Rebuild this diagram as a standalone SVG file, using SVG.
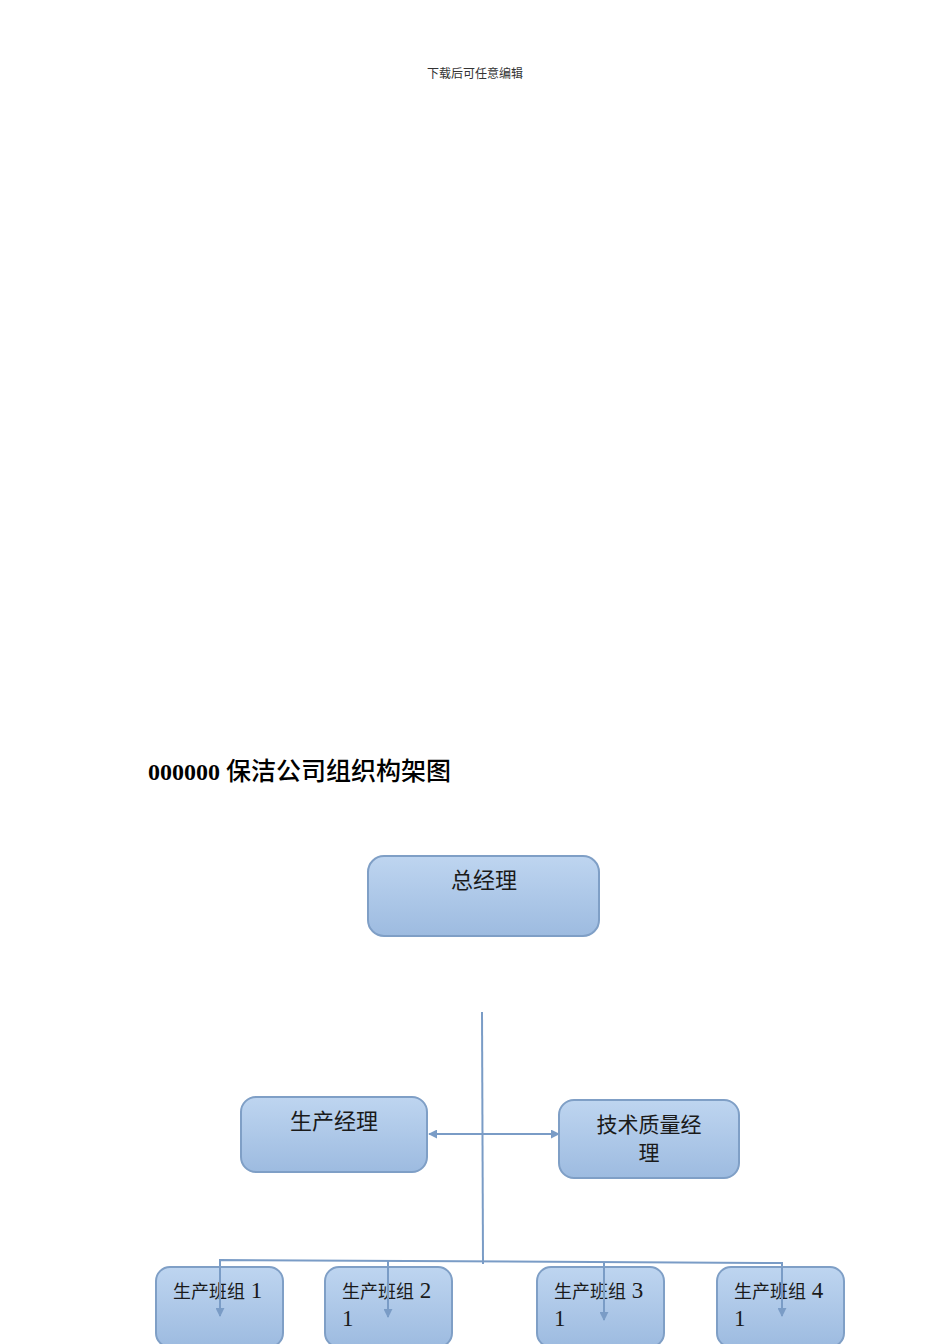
<svg xmlns="http://www.w3.org/2000/svg" width="950" height="1344" viewBox="0 0 950 1344">
<defs>
<linearGradient id="g" x1="0" y1="0" x2="0" y2="1">
<stop offset="0" stop-color="#bed5f0"/>
<stop offset="1" stop-color="#9dbbe0"/>
</linearGradient>
<marker id="ah" viewBox="0 0 10 10" refX="9" refY="5" markerWidth="9" markerHeight="9" markerUnits="userSpaceOnUse" orient="auto-start-reverse">
<path d="M0,0 L10,5 L0,10 z" fill="#7a9cc6"/>
</marker>
<style>
.box{fill:url(#g);stroke:#7f9fc6;stroke-width:2}
.t{font-family:"Noto Sans CJK SC","Liberation Serif",serif;fill:#1a1a1a}
.d{font-family:"Liberation Serif",serif}
.ln{stroke:#7a9cc6;stroke-width:2;fill:none}
</style>
</defs>
<text x="475" y="78" text-anchor="middle" font-family="'Noto Sans CJK SC',sans-serif" font-size="12" fill="#333">下载后可任意编辑</text>
<text x="148" y="780" font-size="24" font-weight="bold" fill="#000"><tspan font-family="'Liberation Serif',serif">000000 </tspan><tspan font-family="'Noto Sans CJK SC',sans-serif" font-size="25" font-weight="500">保洁公司组织构架图</tspan></text>

<g id="connectors">
<line class="ln" x1="482" y1="1012" x2="483" y2="1264"/>
<line class="ln" x1="429" y1="1134" x2="559" y2="1134" marker-start="url(#ah)" marker-end="url(#ah)"/>
<polyline class="ln" points="220,1316 220,1260 782,1263 782,1316"/>
<line class="ln" x1="220" y1="1261" x2="220" y2="1316" marker-end="url(#ah)"/>
<line class="ln" x1="388" y1="1261" x2="388" y2="1317" marker-end="url(#ah)"/>
<line class="ln" x1="604" y1="1262" x2="604" y2="1320" marker-end="url(#ah)"/>
<line class="ln" x1="782" y1="1263" x2="782" y2="1316" marker-end="url(#ah)"/>
</g>

<g id="gm">
<rect class="box" x="368" y="856" width="231" height="80" rx="16"/>
<text class="t" x="484" y="888" text-anchor="middle" font-size="22">总经理</text>
</g>
<g id="pm">
<rect class="box" x="241" y="1097" width="186" height="75" rx="15"/>
<text class="t" x="334" y="1129" text-anchor="middle" font-size="22">生产经理</text>
</g>
<g id="tqm">
<rect class="box" x="559" y="1100" width="180" height="78" rx="15"/>
<text class="t" x="649" y="1132" text-anchor="middle" font-size="21">技术质量经</text>
<text class="t" x="649" y="1160" text-anchor="middle" font-size="21">理</text>
</g>
<g id="team1">
<rect class="box" x="156" y="1267" width="127" height="80" rx="14"/>
<text class="t" x="173" y="1298" font-size="18">生产班组<tspan class="d" font-size="23"> 1</tspan></text>
</g>
<g id="team2">
<rect class="box" x="325" y="1267" width="127" height="80" rx="14"/>
<text class="t" x="342" y="1298" font-size="18">生产班组<tspan class="d" font-size="23"> 2</tspan></text>
<text class="t d" x="342" y="1326" font-size="23">1</text>
</g>
<g id="team3">
<rect class="box" x="537" y="1267" width="127" height="80" rx="14"/>
<text class="t" x="554" y="1298" font-size="18">生产班组<tspan class="d" font-size="23"> 3</tspan></text>
<text class="t d" x="554" y="1326" font-size="23">1</text>
</g>
<g id="team4">
<rect class="box" x="717" y="1267" width="127" height="80" rx="14"/>
<text class="t" x="734" y="1298" font-size="18">生产班组<tspan class="d" font-size="23"> 4</tspan></text>
<text class="t d" x="734" y="1326" font-size="23">1</text>
</g>
<g id="arrowsOver">
<line class="ln" x1="220" y1="1267" x2="220" y2="1316" marker-end="url(#ah)"/>
<line class="ln" x1="388" y1="1267" x2="388" y2="1317" marker-end="url(#ah)"/>
<line class="ln" x1="604" y1="1267" x2="604" y2="1320" marker-end="url(#ah)"/>
<line class="ln" x1="782" y1="1267" x2="782" y2="1316" marker-end="url(#ah)"/>
</g>
</svg>
